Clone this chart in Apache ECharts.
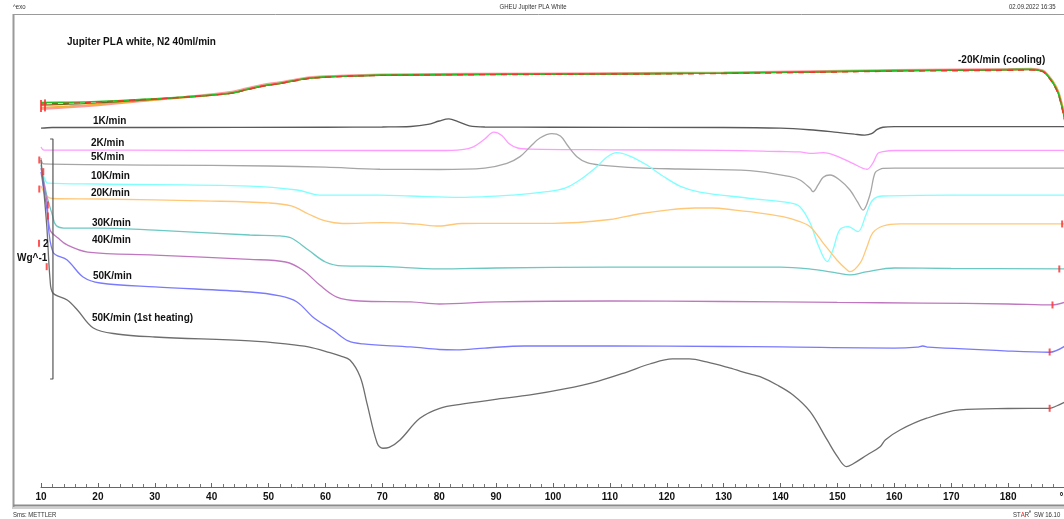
<!DOCTYPE html>
<html>
<head>
<meta charset="utf-8">
<script src="https://cdn.jsdelivr.net/npm/echarts@6.0.0/dist/echarts.min.js"></script>
<style>
  html, body { margin: 0; padding: 0; background: #ffffff; }
  #chart { width: 1064px; height: 519px; }
</style>
</head>
<body>
<div id="chart"></div>
<script>
// DSC heat-flow curves, Jupiter PLA white in N2 (40 ml/min).
// Each curve: [temperature °C, heat flow W/g incl. vertical offset].

const xTicks = { min: 10, max: 190, step: 10, unitLabel: '°C' };

const rate1K = [[10,2.99],[12,2.996],[30,2.996],[60,2.998],[70,3.0],[75,3.004],[78,3.021],[80,3.05],[81.7,3.067],[83.3,3.045],[85.3,3.01],[88,3.0],[100,2.998],[130,2.996],[140,2.99],[145,2.977],[150,2.955],[153,2.94],[154.8,2.933],[156,2.945],[157,2.98],[158,2.998],[160,3.003],[190,3.003]];

const rate2K = [[10,2.833],[10.5,2.808],[40,2.806],[70,2.804],[80,2.804],[84,2.812],[86,2.835],[88,2.9],[89.6,2.958],[91,2.93],[92.3,2.86],[93.8,2.825],[96,2.815],[110,2.81],[130,2.806],[140,2.796],[143.4,2.792],[145.2,2.78],[147.5,2.786],[150.4,2.747],[152.7,2.697],[155.2,2.648],[156.2,2.697],[157.1,2.78],[158,2.794],[160,2.804],[190,2.806]];

const rate5K = [[10,2.742],[10.5,2.692],[30,2.683],[50,2.675],[60,2.665],[69.6,2.648],[80,2.646],[88,2.658],[91.9,2.697],[94.2,2.753],[96,2.836],[97.7,2.908],[99.8,2.944],[101.3,2.925],[102.5,2.85],[104.2,2.753],[106,2.703],[108.3,2.683],[115,2.66],[122.3,2.65],[134.6,2.636],[141.7,2.586],[143.4,2.558],[145.2,2.489],[145.7,2.461],[146.6,2.517],[147.5,2.581],[148.7,2.6],[150.4,2.558],[152.2,2.475],[153.5,2.378],[154.5,2.308],[155.7,2.433],[156.6,2.617],[157.5,2.648],[158,2.656],[160,2.658],[190,2.658]];

const rate10K = [[10,2.658],[10.6,2.575],[11.2,2.533],[20,2.525],[46.7,2.508],[55,2.475],[59,2.433],[69.6,2.433],[75,2.425],[83.7,2.414],[93,2.433],[98.9,2.461],[102.1,2.49],[104.7,2.558],[107.7,2.669],[109.5,2.75],[111.2,2.786],[113.5,2.758],[116.5,2.683],[119.3,2.592],[122.3,2.508],[125.8,2.458],[134.6,2.406],[141.7,2.367],[143.4,2.336],[145.2,2.2],[146.6,2.017],[148.2,1.878],[149.2,1.975],[150.4,2.142],[151.9,2.169],[153.6,2.128],[155,2.267],[156.2,2.392],[158,2.425],[169.8,2.433],[190,2.433]];

const rate20K = [[10,2.508],[11,2.425],[12,2.404],[20,2.4],[40,2.383],[50,2.367],[54,2.342],[57,2.275],[60,2.217],[63,2.196],[70,2.203],[76,2.19],[80,2.175],[84,2.196],[90,2.197],[100,2.197],[110,2.229],[115,2.275],[120,2.308],[125,2.325],[128,2.325],[132,2.308],[134.6,2.294],[140.4,2.253],[143.4,2.211],[145.2,2.169],[147.5,2.033],[149.9,1.892],[151.7,1.808],[152.2,1.794],[154,1.867],[155.2,2.003],[156.2,2.117],[158,2.175],[161,2.192],[190,2.192]];

const rate30K = [[10,2.683],[11,2.433],[12,2.267],[12.6,2.183],[14,2.158],[20,2.158],[30,2.14],[46.7,2.1],[52,2.092],[54,2.075],[57,1.975],[60,1.875],[63,1.842],[70,1.838],[80,1.817],[90,1.825],[110,1.833],[140,1.833],[145,1.817],[150,1.783],[152.2,1.767],[155,1.792],[160,1.825],[170,1.821],[190,1.817]];

const rate40K = [[10,2.658],[11,2.392],[11.6,2.142],[13,2.075],[14.6,2.017],[18.2,1.958],[30,1.933],[46.7,1.897],[53,1.875],[56,1.808],[59,1.683],[62,1.583],[66,1.55],[75,1.542],[80,1.525],[90,1.542],[110,1.55],[130,1.546],[150,1.538],[165,1.533],[180,1.525],[187.8,1.517],[190,1.54]];

const rate50K = [[10,2.625],[11,2.325],[12.1,1.958],[14.6,1.892],[17.4,1.75],[20.4,1.7],[30,1.667],[46.7,1.625],[52,1.592],[55,1.542],[58,1.408],[61.3,1.308],[64,1.217],[66.6,1.192],[75,1.167],[80,1.146],[83,1.142],[88,1.158],[95,1.175],[110,1.175],[130,1.171],[140,1.167],[160,1.158],[164,1.165],[165,1.175],[166,1.165],[180,1.133],[187.3,1.123],[190,1.175]];

const firstHeating50K = [[10,2.725],[11,2.183],[11.6,1.725],[12.1,1.617],[14.6,1.558],[16.4,1.475],[19.2,1.325],[23.3,1.275],[30,1.25],[46.7,1.217],[53,1.192],[57,1.167],[60.8,1.119],[62.6,1.092],[64.3,1.058],[66.1,0.919],[67.3,0.697],[69.1,0.364],[70.1,0.323],[71.2,0.33],[73.1,0.392],[76.6,0.572],[80.1,0.656],[84.2,0.692],[90.2,0.733],[96,0.767],[102,0.817],[108,0.883],[113,0.958],[117,1.025],[121,1.067],[124,1.067],[127,1.042],[131,0.992],[134.6,0.942],[136.4,0.919],[139.4,0.85],[142.2,0.767],[145.2,0.628],[148.2,0.392],[150,0.253],[151.6,0.169],[152.7,0.192],[155.2,0.267],[157.5,0.336],[158.4,0.392],[161,0.475],[165.7,0.573],[171.5,0.642],[180,0.654],[187.3,0.656],[188.5,0.675],[190,0.708]];

// -20 K/min cooling runs (overlapping)
const coolPink = [[10,3.15],[15,3.165],[20,3.183],[25.6,3.208],[35,3.248],[43.2,3.29],[46.2,3.322],[49,3.352],[52,3.372],[55,3.398],[57.8,3.416],[60.8,3.424],[69.6,3.437],[100,3.446],[130,3.454],[160,3.474],[180,3.482],[184,3.484],[186.1,3.47],[187,3.432],[187.9,3.376],[188.8,3.295],[189.6,3.16],[190,3.07]];
const coolOrange = [[10,3.163],[15,3.175],[20,3.19],[25.6,3.21],[35,3.244],[43.2,3.28],[46.2,3.312],[49,3.342],[52,3.363],[55,3.39],[57.8,3.41],[60.8,3.418],[69.6,3.432],[100,3.441],[130,3.449],[160,3.469],[180,3.477],[184,3.48],[186.1,3.468],[187,3.432],[187.9,3.378],[188.8,3.298],[189.6,3.165],[190,3.08]];
const coolOlive = [[10,3.183],[15,3.19],[20,3.2],[25.6,3.217],[35,3.246],[43.2,3.279],[46.2,3.311],[49,3.341],[52,3.362],[55,3.39],[57.8,3.409],[60.8,3.417],[69.6,3.431],[100,3.44],[130,3.448],[160,3.468],[180,3.476],[184,3.478],[186.1,3.463],[187,3.424],[187.9,3.366],[188.8,3.282],[189.6,3.14],[190,3.05]];
const coolRed = [[10,3.192],[15,3.198],[20,3.208],[25.6,3.222],[35,3.248],[43.2,3.279],[46.2,3.31],[49,3.34],[52,3.362],[55,3.388],[57.8,3.408],[60.8,3.417],[69.6,3.43],[100,3.439],[130,3.446],[160,3.465],[180,3.472],[184,3.475],[186.1,3.462],[187,3.42],[187.9,3.36],[188.8,3.275],[189.6,3.13],[190,3.04]];
const coolGreen = [[10,3.204],[15,3.206],[20,3.212],[25.6,3.225],[35,3.25],[43.2,3.281],[46.2,3.314],[49,3.344],[52,3.364],[55,3.392],[57.8,3.411],[60.8,3.419],[69.6,3.433],[100,3.442],[130,3.45],[160,3.471],[180,3.479],[184,3.481],[186.1,3.465],[187,3.425],[187.9,3.367],[188.8,3.283],[189.6,3.142],[190,3.05]];

// evaluation-limit markers at the ends of the runs
const limitMarks = [[9.7,2.725],[10.4,2.628],[9.7,2.483],[11.2,2.35],[11.2,2.258],[9.65,2.031],[11.0,1.836],[189.5,2.192],[189.0,1.817],[187.8,1.517],[187.3,1.125],[187.3,0.656]];
const coolLimitMarks = [[10.0,3.175],[10.7,3.18]];

// 2 W/g scale bar
const scaleBar = { t: 12.1, from: 0.9, to: 2.9, tickT: 11.6 };

const curveLabels = [
  { text: 'Jupiter PLA white, N2 40ml/min', x: 67, y: 42 },
  { text: '-20K/min (cooling)', x: 958, y: 60 },
  { text: '1K/min', x: 93, y: 121 },
  { text: '2K/min', x: 91, y: 143 },
  { text: '5K/min', x: 91, y: 157 },
  { text: '10K/min', x: 91, y: 176 },
  { text: '20K/min', x: 91, y: 193 },
  { text: '30K/min', x: 92, y: 223 },
  { text: '40K/min', x: 92, y: 240 },
  { text: '50K/min', x: 93, y: 276 },
  { text: '50K/min (1st heating)', x: 92, y: 318 },
  { text: '2', x: 43, y: 244 },
  { text: 'Wg^-1', x: 17, y: 258 }
];

const SANS = '"Liberation Sans", Arial, sans-serif';

function curve(name, data, color, width, extra) {
  return Object.assign({
    name, type: 'line', data,
    showSymbol: false, smooth: 0.35,
    lineStyle: { color, width: width || 1.2 },
    emphasis: { disabled: true },
    z: 3
  }, extra || {});
}

const series = [
  curve('cool pink', coolPink, '#ff9a9a', 2.2),
  curve('cool orange', coolOrange, '#f0b030', 1.4),
  curve('cool olive', coolOlive, '#6b6b20', 1.2),
  curve('cool green', coolGreen, '#22c022', 1.6),
  curve('cool red', coolRed, '#e83a2a', 1.4, { lineStyle: { color: '#e83a2a', width: 1.4, type: [6, 5] } }),
  curve('1K/min', rate1K, '#5a5a5a', 1.3),
  curve('2K/min', rate2K, '#ff9cff', 1.3),
  curve('5K/min', rate5K, '#a6a6a6', 1.3),
  curve('10K/min', rate10K, '#80ffff', 1.3),
  curve('20K/min', rate20K, '#ffc878', 1.3),
  curve('30K/min', rate30K, '#6cc8c2', 1.3),
  curve('40K/min', rate40K, '#bf78bf', 1.3),
  curve('50K/min', rate50K, '#7a7aff', 1.3),
  curve('50K/min (1st heating)', firstHeating50K, '#6e6e6e', 1.3),
  {
    name: 'scale', type: 'line', showSymbol: false, silent: true, z: 4,
    data: [[scaleBar.tickT, scaleBar.to], [scaleBar.t, scaleBar.to], [scaleBar.t, scaleBar.from], [scaleBar.tickT, scaleBar.from]],
    lineStyle: { color: '#555', width: 1.2 }, clip: false
  },
  {
    name: 'limits', type: 'scatter', data: limitMarks, clip: false, silent: true, z: 6,
    symbol: 'rect', symbolSize: [2, 7], itemStyle: { color: '#ff2a2a' }
  },
  {
    name: 'cool limits', type: 'scatter', data: coolLimitMarks, clip: false, silent: true, z: 6,
    symbol: 'rect', symbolSize: [2, 12], itemStyle: { color: '#ff2a2a' }
  }
];

function smallText(x, y, text, align) {
  return { type: 'text', x, y, scaleX: 0.8, silent: true,
    style: { text, font: '7.5px ' + SANS, fill: '#333', align: align || 'left', verticalAlign: 'middle' } };
}

const graphic = [
  // outer frame
  { type: 'line', shape: { x1: 13, y1: 14.5, x2: 1064, y2: 14.5 }, style: { stroke: '#9a9a9a', lineWidth: 1 }, silent: true },
  { type: 'line', shape: { x1: 13.5, y1: 14, x2: 13.5, y2: 509 }, style: { stroke: '#9a9a9a', lineWidth: 2 }, silent: true },
  { type: 'line', shape: { x1: 13, y1: 505.5, x2: 1064, y2: 505.5 }, style: { stroke: '#8c8c8c', lineWidth: 2 }, silent: true },
  { type: 'line', shape: { x1: 13, y1: 508, x2: 1064, y2: 508 }, style: { stroke: '#d0d0d0', lineWidth: 2 }, silent: true },
  // header and footer
  smallText(13, 7, '^exo'),
  smallText(533, 7, 'GHEU Jupiter PLA White', 'center'),
  smallText(1009, 7, '02.09.2022 16:35'),
  smallText(13, 515, 'Sms: METTLER'),
  { type: 'text', x: 1013, y: 515, scaleX: 0.8, silent: true, style: {
      text: '{k|ST}{r|A}{k|R}{s|e} {k|SW 16.10}', verticalAlign: 'middle',
      rich: {
        k: { font: '7.5px ' + SANS, fill: '#333' },
        r: { font: '7.5px ' + SANS, fill: '#e02020' },
        s: { font: '5px ' + SANS, fill: '#333', verticalAlign: 'top' }
      } } }
].concat(curveLabels.map(l => ({
  type: 'text', x: l.x, y: l.y, silent: true, z: 10,
  style: { text: l.text, font: 'bold 10px ' + SANS, fill: '#111', verticalAlign: 'middle' }
})));

const chart = echarts.init(document.getElementById('chart'), null, { renderer: 'canvas' });
chart.setOption({
  animation: false,
  backgroundColor: '#ffffff',
  grid: { left: 41, width: 1024, top: 7, height: 480, outerBoundsMode: 'none' },
  xAxis: {
    type: 'value', min: xTicks.min, max: xTicks.max, interval: xTicks.step,
    axisLine: { show: true, lineStyle: { color: '#666', width: 1 } },
    axisTick: { show: true, inside: true, length: 4, lineStyle: { color: '#666' } },
    minorTick: { show: true, splitNumber: 5, length: 3, lineStyle: { color: '#777' } },
    splitLine: { show: false },
    axisLabel: {
      margin: 5, color: '#111', fontFamily: SANS, fontWeight: 'bold', fontSize: 10,
      showMaxLabel: true, hideOverlap: false,
      formatter: v => (v === xTicks.max ? xTicks.unitLabel : String(v))
    }
  },
  yAxis: { type: 'value', min: 0, max: 4, show: false },
  series,
  graphic
});
</script>
</body>
</html>
